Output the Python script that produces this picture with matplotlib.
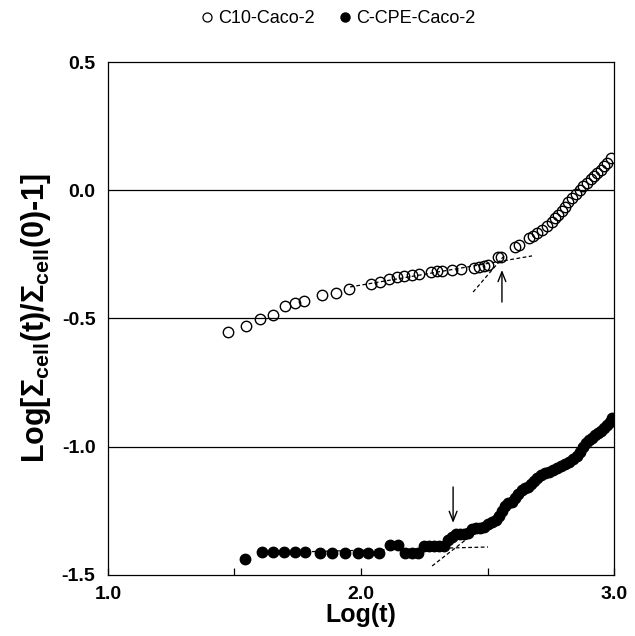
import matplotlib
matplotlib.use("Agg")
import matplotlib.pyplot as plt
from matplotlib.lines import Line2D

plt.rcParams['font.family'] = ['Liberation Sans', 'DejaVu Sans']
plt.rcParams['mathtext.fontset'] = 'custom'
plt.rcParams['mathtext.rm'] = 'Liberation Sans:bold'
plt.rcParams['mathtext.it'] = 'Liberation Sans:bold'
plt.rcParams['mathtext.bf'] = 'Liberation Sans:bold'
plt.rcParams['mathtext.default'] = 'bf'

# C10-Caco-2 (open circles)
c10_x = [1.474, 1.545, 1.601, 1.652, 1.700, 1.739, 1.775, 1.846, 1.901, 1.953,
         2.040, 2.075, 2.111, 2.142, 2.170, 2.202, 2.229, 2.277, 2.300, 2.320,
         2.360, 2.395, 2.447, 2.466, 2.486, 2.502, 2.542, 2.553,
         2.609, 2.625, 2.664, 2.680, 2.696, 2.715, 2.735, 2.755, 2.767, 2.779,
         2.794, 2.806, 2.818, 2.834, 2.850, 2.866, 2.877, 2.893, 2.909, 2.921,
         2.933, 2.949, 2.960, 2.972, 2.988]
c10_y = [-0.553, -0.529, -0.502, -0.486, -0.451, -0.440, -0.432, -0.408, -0.401, -0.385,
         -0.365, -0.358, -0.346, -0.338, -0.334, -0.330, -0.327, -0.319, -0.315, -0.315,
         -0.311, -0.307, -0.303, -0.299, -0.295, -0.291, -0.260, -0.260,
         -0.221, -0.213, -0.186, -0.178, -0.167, -0.155, -0.139, -0.124, -0.108, -0.097,
         -0.081, -0.065, -0.046, -0.030, -0.015, 0.001, 0.017, 0.028, 0.044, 0.056,
         0.067, 0.079, 0.095, 0.106, 0.126]

# C-CPE-Caco-2 (filled circles)
cpe_x = [1.542, 1.609, 1.652, 1.696, 1.739, 1.779, 1.838, 1.885, 1.937, 1.988,
         2.028, 2.071, 2.115, 2.146, 2.174, 2.202, 2.225, 2.249, 2.269, 2.289,
         2.308, 2.328, 2.344, 2.360, 2.375, 2.391, 2.407, 2.423, 2.439, 2.455,
         2.470, 2.486, 2.502, 2.518, 2.534, 2.545, 2.557, 2.569, 2.581, 2.597,
         2.609, 2.621, 2.636, 2.648, 2.660, 2.672, 2.684, 2.696, 2.711, 2.727,
         2.743, 2.759, 2.775, 2.791, 2.806, 2.822, 2.838, 2.854, 2.866, 2.877,
         2.889, 2.901, 2.913, 2.925, 2.937, 2.949, 2.960, 2.972, 2.984, 2.992]
cpe_y = [-1.438, -1.410, -1.410, -1.410, -1.410, -1.410, -1.414, -1.414, -1.414, -1.414,
         -1.414, -1.414, -1.383, -1.383, -1.414, -1.414, -1.414, -1.387, -1.387, -1.387,
         -1.387, -1.387, -1.364, -1.352, -1.340, -1.340, -1.340, -1.336, -1.321, -1.317,
         -1.317, -1.313, -1.301, -1.293, -1.286, -1.270, -1.250, -1.231, -1.219, -1.215,
         -1.200, -1.184, -1.169, -1.161, -1.157, -1.145, -1.134, -1.122, -1.110, -1.102,
         -1.098, -1.091, -1.083, -1.075, -1.067, -1.059, -1.048, -1.036, -1.020, -1.001,
         -0.985, -0.974, -0.966, -0.954, -0.946, -0.939, -0.927, -0.915, -0.903, -0.888]

# fitted dashed lines
c10_fit1_x = [1.957, 2.676]
c10_fit1_y = [-0.377, -0.256]
c10_fit2_x = [2.443, 2.569]
c10_fit2_y = [-0.397, -0.252]
cpe_fit1_x = [1.609, 2.502]
cpe_fit1_y = [-1.414, -1.391]
cpe_fit2_x = [2.281, 2.423]
cpe_fit2_y = [-1.465, -1.356]

# arrows (x, y_start, y_end)
arrow_up = (2.557, -0.436, -0.311)
arrow_down = (2.364, -1.157, -1.297)

x_ticks = [1.0, 1.5, 2.0, 2.5, 3.0]
x_ticklabels = ['1.0', '', '2.0', '', '3.0']
y_ticks = [0.5, 0.0, -0.5, -1.0, -1.5]
y_ticklabels = ['0.5', '0.0', '-0.5', '-1.0', '-1.5']
series_names = ['C10-Caco-2', 'C-CPE-Caco-2']

fig = plt.figure(figsize=(6.35, 6.36), dpi=100)
ax = fig.add_axes([0.170, 0.096, 0.797, 0.8065])

for gy in [0.0, -0.5, -1.0]:
    ax.axhline(gy, color='black', lw=0.9, zorder=1)

for fx, fy in [(c10_fit1_x, c10_fit1_y), (c10_fit2_x, c10_fit2_y),
               (cpe_fit1_x, cpe_fit1_y), (cpe_fit2_x, cpe_fit2_y)]:
    ax.plot(fx, fy, ls=(0, (3, 2)), color='black', lw=0.9, zorder=2)

ax.plot(c10_x, c10_y, ls='none', marker='o', ms=7.5, mfc='none', mec='black', mew=1.0, zorder=3)
ax.plot(cpe_x, cpe_y, ls='none', marker='o', ms=7.5, mfc='black', mec='black', zorder=3)

for ax_x, y0, y1 in [arrow_up, arrow_down]:
    ax.annotate('', xy=(ax_x, y1), xytext=(ax_x, y0),
                arrowprops=dict(arrowstyle='->,head_length=0.7,head_width=0.28', lw=1.0,
                                color='black', shrinkA=0, shrinkB=0))

ax.set_xlim(1.0, 3.0)
ax.set_ylim(-1.5, 0.5)
ax.set_xticks(x_ticks)
ax.set_xticklabels(x_ticklabels, fontsize=14, fontweight='bold')
ax.set_yticks(y_ticks)
ax.set_yticklabels(y_ticklabels, fontsize=14, fontweight='bold')
ax.tick_params(axis='x', direction='in', length=5, width=0.9, pad=8)
ax.tick_params(axis='y', length=0, pad=9)
for s in ax.spines.values():
    s.set_linewidth(0.9)

ax.set_xlabel('Log(t)', fontsize=18, fontweight='bold', labelpad=0)
ax.set_ylabel(r'Log[$\Sigma_{cell}$(t)/$\Sigma_{cell}$(0)-1]', fontsize=22,
              fontweight='bold', labelpad=6)

handles = [Line2D([], [], ls='none', marker='o', ms=6.5, mfc='none', mec='black', mew=0.9),
           Line2D([], [], ls='none', marker='o', ms=6.5, mfc='black', mec='black')]
fig.legend(handles, series_names, loc='center', bbox_to_anchor=(0.53, 0.971),
           ncol=2, frameon=False, fontsize=13, handletextpad=0.1, columnspacing=1.2,
           handlelength=1.0)

fig.savefig('out.png', dpi=100)
